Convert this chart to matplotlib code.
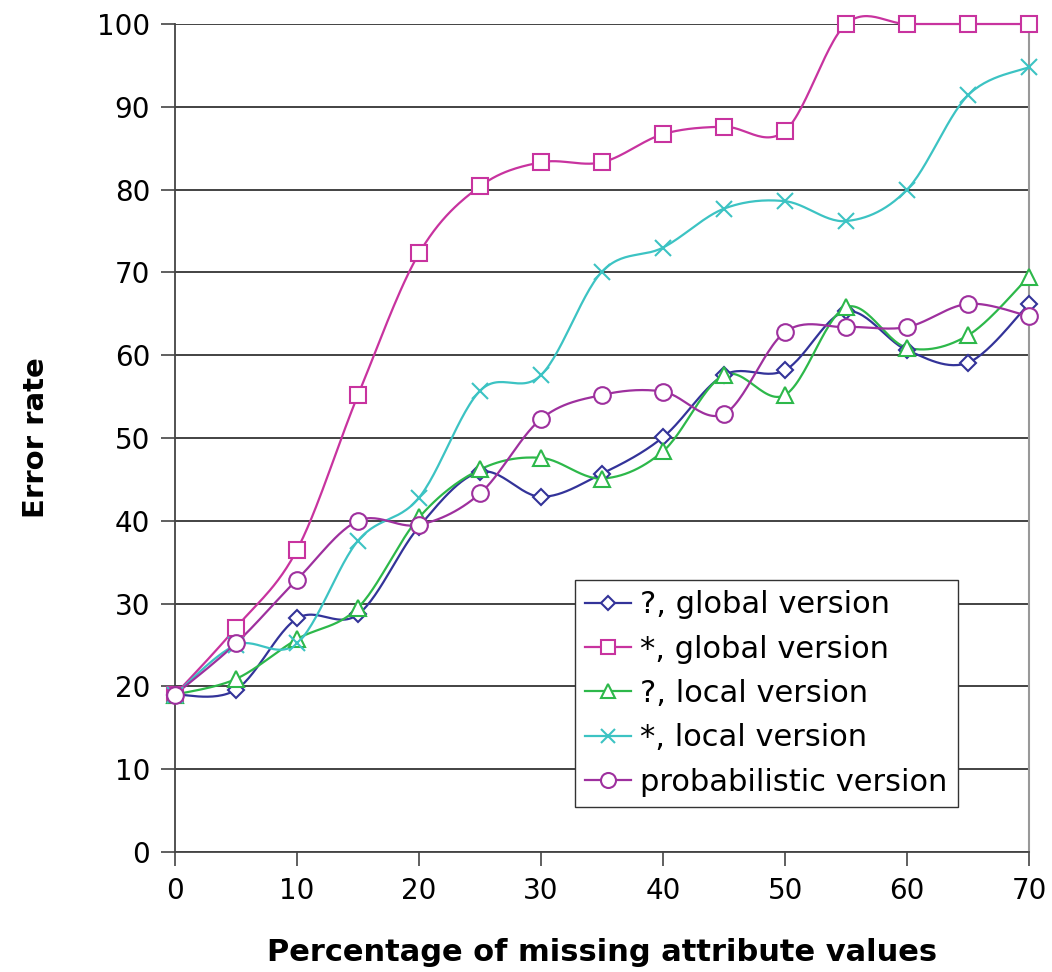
import numpy as np
import matplotlib
matplotlib.use("Agg")
import matplotlib.pyplot as plt

# --------------------- DATA ---------------------

x = [0, 5, 10, 15, 20, 25, 30, 35, 40, 45, 50, 55, 60, 65, 70]

q_global = [19.0, 19.6, 28.2, 28.7, 39.3, 45.9, 42.9, 45.7, 50.1, 57.6, 58.2, 65.3, 60.6, 59.1, 66.2]
s_global = [19.0, 27.1, 36.5, 55.2, 72.3, 80.4, 83.3, 83.3, 86.7, 87.6, 87.1, 100.0, 100.0, 100.0, 100.0]
q_local = [19.0, 20.9, 25.7, 29.5, 40.4, 46.2, 47.6, 45.1, 48.4, 57.6, 55.2, 65.8, 60.9, 62.4, 69.5]
s_local = [19.0, 25.0, 25.2, 37.6, 42.8, 55.7, 57.6, 70.1, 73.0, 77.7, 78.6, 76.2, 80.0, 91.4, 94.8]
prob = [19.0, 25.2, 32.9, 40.0, 39.5, 43.3, 52.3, 55.2, 55.6, 52.9, 62.8, 63.4, 63.4, 66.2, 64.7]

labels = ["?, global version", "*, global version", "?, local version",
          "*, local version", "probabilistic version"]


# --------------------- TOOLS ---------------------

def smooth(xs, ys, steps=30):
    # bezier smoothing through the points (like a spreadsheet "smoothed line")
    p = np.column_stack((xs, ys)).astype(float)
    p = np.vstack((p[0], p, p[-1]))
    out = []
    t = np.linspace(0, 1, steps)[:, None]
    for i in range(1, len(p) - 2):
        p0, p1, p2, p3 = p[i - 1], p[i], p[i + 1], p[i + 2]
        c1 = p1 + (p2 - p0) / 6
        c2 = p2 - (p3 - p1) / 6
        seg = ((1 - t) ** 3) * p1 + 3 * ((1 - t) ** 2) * t * c1 + 3 * (1 - t) * t ** 2 * c2 + t ** 3 * p2
        out.append(seg if i == 1 else seg[1:])
    out = np.vstack(out)
    return out[:, 0], out[:, 1]


# --------------------- PLOT ---------------------

series = [
    (q_global, "#333399", "D", 8),
    (s_global, "#C8339F", "s", 11),
    (q_local, "#2DB84A", "^", 11),
    (s_local, "#3CC3C3", "x", 11),
    (prob, "#9E309E", "o", 12),
]

fig = plt.figure(figsize=(10.52, 9.72), dpi=100)
ax = fig.add_axes([0.1664, 0.1235, 0.8118, 0.8518])

for (ys, col, mk, ms), lab in zip(series, labels):
    sx, sy = smooth(x, ys)
    ax.plot(sx, sy, color=col, lw=1.6, zorder=3, clip_on=False)
    ax.plot(x, ys, linestyle="none", marker=mk, ms=ms, color=col,
            markerfacecolor="white" if mk != "x" else col,
            markeredgewidth=1.5, zorder=4, clip_on=False)
    # proxy for legend
    ax.plot([], [], color=col, lw=1.6, marker=mk, ms=ms * 0.9,
            markerfacecolor="white" if mk != "x" else col,
            markeredgewidth=1.5, label=lab)

ax.set_xlim(0, 70)
ax.set_ylim(0, 100)
ax.set_xticks(np.arange(0, 71, 10))
ax.set_yticks(np.arange(0, 101, 10))
ax.yaxis.grid(True, color="#222222", lw=1.2)
ax.set_axisbelow(True)

ax.spines["top"].set_visible(False)
ax.spines["right"].set_color("#999999")
ax.spines["right"].set_linewidth(1.5)
for s in ["left", "bottom"]:
    ax.spines[s].set_color("#444444")
    ax.spines[s].set_linewidth(1.3)

ax.tick_params(axis="both", direction="out", length=10, width=1.2,
               color="#444444", labelsize=20, pad=8)

ax.set_xlabel("Percentage of missing attribute values", fontsize=22,
              fontweight="bold", labelpad=24)
ax.set_ylabel("Error rate", fontsize=21, fontweight="bold", labelpad=34)

ax.legend(loc="lower left", bbox_to_anchor=(0.468, 0.054), fontsize=22,
          frameon=True, fancybox=False, edgecolor="#333333", framealpha=1,
          handlelength=1.5, handletextpad=0.3, labelspacing=0.5,
          borderpad=0.35, borderaxespad=0)

plt.savefig("out.png", dpi=100)
